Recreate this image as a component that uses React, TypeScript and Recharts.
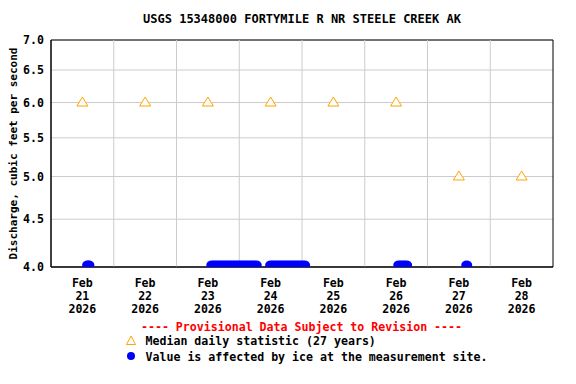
import React from 'react';
import { ScatterChart, Scatter, XAxis, YAxis, CartesianGrid, ReferenceLine, ReferenceArea } from 'recharts';

const FONT = '"DejaVu Sans Mono", monospace';

// days of February 2026 shown on the x axis (domain runs midnight Feb 21 to midnight Mar 1)
const dayLabels = [21, 22, 23, 24, 25, 26, 27, 28];
const dayBoundaries = [22, 23, 24, 25, 26, 27, 28];
const yTicks = [4.0, 4.5, 5.0, 5.5, 6.0, 6.5, 7.0];

// median daily statistic (27 years), plotted at noon of each day
const medianDays = [21, 22, 23, 24, 25, 26, 27, 28];
const medianFlow = [6.0, 6.0, 6.0, 6.0, 6.0, 6.0, 5.0, 5.0];

// ice-affected values, drawn along the bottom of the plot
const iceTimes = [
  '2026-02-21T14:00', '2026-02-21T14:30',
  '2026-02-23T13:30', '2026-02-23T14:30', '2026-02-23T15:30', '2026-02-23T16:30', '2026-02-23T17:30',
  '2026-02-23T18:30', '2026-02-23T19:30', '2026-02-23T20:30', '2026-02-23T21:30', '2026-02-23T22:30',
  '2026-02-23T23:30', '2026-02-24T00:30', '2026-02-24T01:30', '2026-02-24T02:30', '2026-02-24T03:30',
  '2026-02-24T04:30', '2026-02-24T05:30', '2026-02-24T06:30',
  '2026-02-24T12:00', '2026-02-24T13:00', '2026-02-24T14:00', '2026-02-24T15:00', '2026-02-24T16:00',
  '2026-02-24T17:00', '2026-02-24T18:00', '2026-02-24T19:00', '2026-02-24T20:00', '2026-02-24T21:00',
  '2026-02-24T22:00', '2026-02-24T23:00', '2026-02-25T00:00', '2026-02-25T01:00',
  '2026-02-26T13:00', '2026-02-26T14:00', '2026-02-26T15:00', '2026-02-26T16:00',
  '2026-02-27T15:00',
];
const iceFlow = [
  4.02, 4.02,
  4.02, 4.02, 4.02, 4.02, 4.02, 4.02, 4.02, 4.02, 4.02, 4.02, 4.02, 4.02, 4.02, 4.02, 4.02, 4.02, 4.02, 4.02,
  4.02, 4.02, 4.02, 4.02, 4.02, 4.02, 4.02, 4.02, 4.02, 4.02, 4.02, 4.02, 4.02, 4.02,
  4.02, 4.02, 4.02, 4.02,
  4.02,
];

// x value = day of February as a fraction (21.0 = Feb 21 00:00)
const toDay = (s: string) => (Date.parse(s + ':00Z') - Date.UTC(2026, 1, 0)) / 86400000;

const medianData = medianDays.map((d, i) => ({ x: d + 0.5, y: medianFlow[i] }));
const iceData = iceTimes.map((t, i) => ({ x: toDay(t), y: iceFlow[i] }));

const Triangle = (props: any) => {
  const { cx, cy } = props;
  return (
    <polygon
      points={`${cx},${cy - 5.5} ${cx - 5.5},${cy + 3.5} ${cx + 5.5},${cy + 3.5}`}
      fill="#fff"
      stroke="#FFA500"
      strokeWidth={1}
    />
  );
};

const Dot = (props: any) => {
  const { cx, cy } = props;
  return <ellipse cx={cx} cy={cy} rx={5.5} ry={4.6} fill="#0000FF" />;
};

const DayTick = (props: any) => {
  const { x, y, payload } = props;
  const d = Math.floor(payload.value);
  const style = { fontFamily: FONT, fontSize: 11.6, fontWeight: 'bold' as const, fill: '#000' };
  return (
    <g>
      <text x={x} y={y + 20} textAnchor="middle" {...style}>Feb</text>
      <text x={x} y={y + 32.5} textAnchor="middle" {...style}>{d}</text>
      <text x={x} y={y + 45.5} textAnchor="middle" {...style}>2026</text>
    </g>
  );
};

export default function App() {
  const txt = { fontFamily: FONT, fontWeight: 'bold' as const };
  return (
    <div style={{ position: 'absolute', left: 0, top: 0, width: 576, height: 384, background: '#fff' }}>
      <ScatterChart width={576} height={384} margin={{ top: 40, right: 23, left: 0, bottom: 57 }}>
        <CartesianGrid vertical={false} stroke="#cccccc" />
        {dayBoundaries.map(d => (
          <ReferenceLine key={d} x={d} stroke="#cccccc" />
        ))}
        <XAxis
          type="number"
          dataKey="x"
          domain={[21, 29]}
          ticks={dayLabels.map(d => d + 0.5)}
          tick={<DayTick />}
          tickLine={false}
          tickSize={0}
          tickMargin={0}
          height={60}
          axisLine={{ stroke: '#000' }}
          interval={0}
        />
        <YAxis
          type="number"
          dataKey="y"
          scale="log"
          domain={[4, 7]}
          ticks={yTicks}
          tickFormatter={(v: number) => v.toFixed(1)}
          tick={{ fontFamily: FONT, fontSize: 11.6, fontWeight: 'bold', fill: '#000' }}
          tickLine={false}
          tickSize={0}
          tickMargin={7}
          width={51}
          axisLine={{ stroke: '#000' }}
          allowDataOverflow
          interval={0}
        />
        <ReferenceArea x1={21} x2={29} y1={4} y2={7} fill="none" stroke="#000" strokeWidth={1} />
        <Scatter data={medianData} shape={<Triangle />} isAnimationActive={false} />
        <Scatter data={iceData} shape={<Dot />} isAnimationActive={false} />
      </ScatterChart>
      <svg
        width={576}
        height={384}
        style={{ position: 'absolute', left: 0, top: 0, pointerEvents: 'none' }}
      >
        <text x={302} y={23} textAnchor="middle" fontSize={12} fill="#000" {...txt}>
          USGS 15348000 FORTYMILE R NR STEELE CREEK AK
        </text>
        <text
          x={17}
          y={153.5}
          textAnchor="middle"
          fontSize={11}
          fill="#000"
          transform="rotate(-90 17 153.5)"
          {...txt}
        >
          Discharge, cubic feet per second
        </text>
        <text x={301.5} y={330.5} textAnchor="middle" fontSize={11.6} fill="#FF0000" {...txt}>
          ---- Provisional Data Subject to Revision ----
        </text>
        <polygon points="131,336 126.5,344.5 135.5,344.5" fill="#fff" stroke="#FFA500" strokeWidth={1} />
        <text x={145.5} y={345} fontSize={11.6} fill="#000" {...txt}>
          Median daily statistic (27 years)
        </text>
        <circle cx={131} cy={356} r={4} fill="#0000FF" />
        <text x={145.5} y={360.5} fontSize={11.6} fill="#000" {...txt}>
          Value is affected by ice at the measurement site.
        </text>
      </svg>
    </div>
  );
}
